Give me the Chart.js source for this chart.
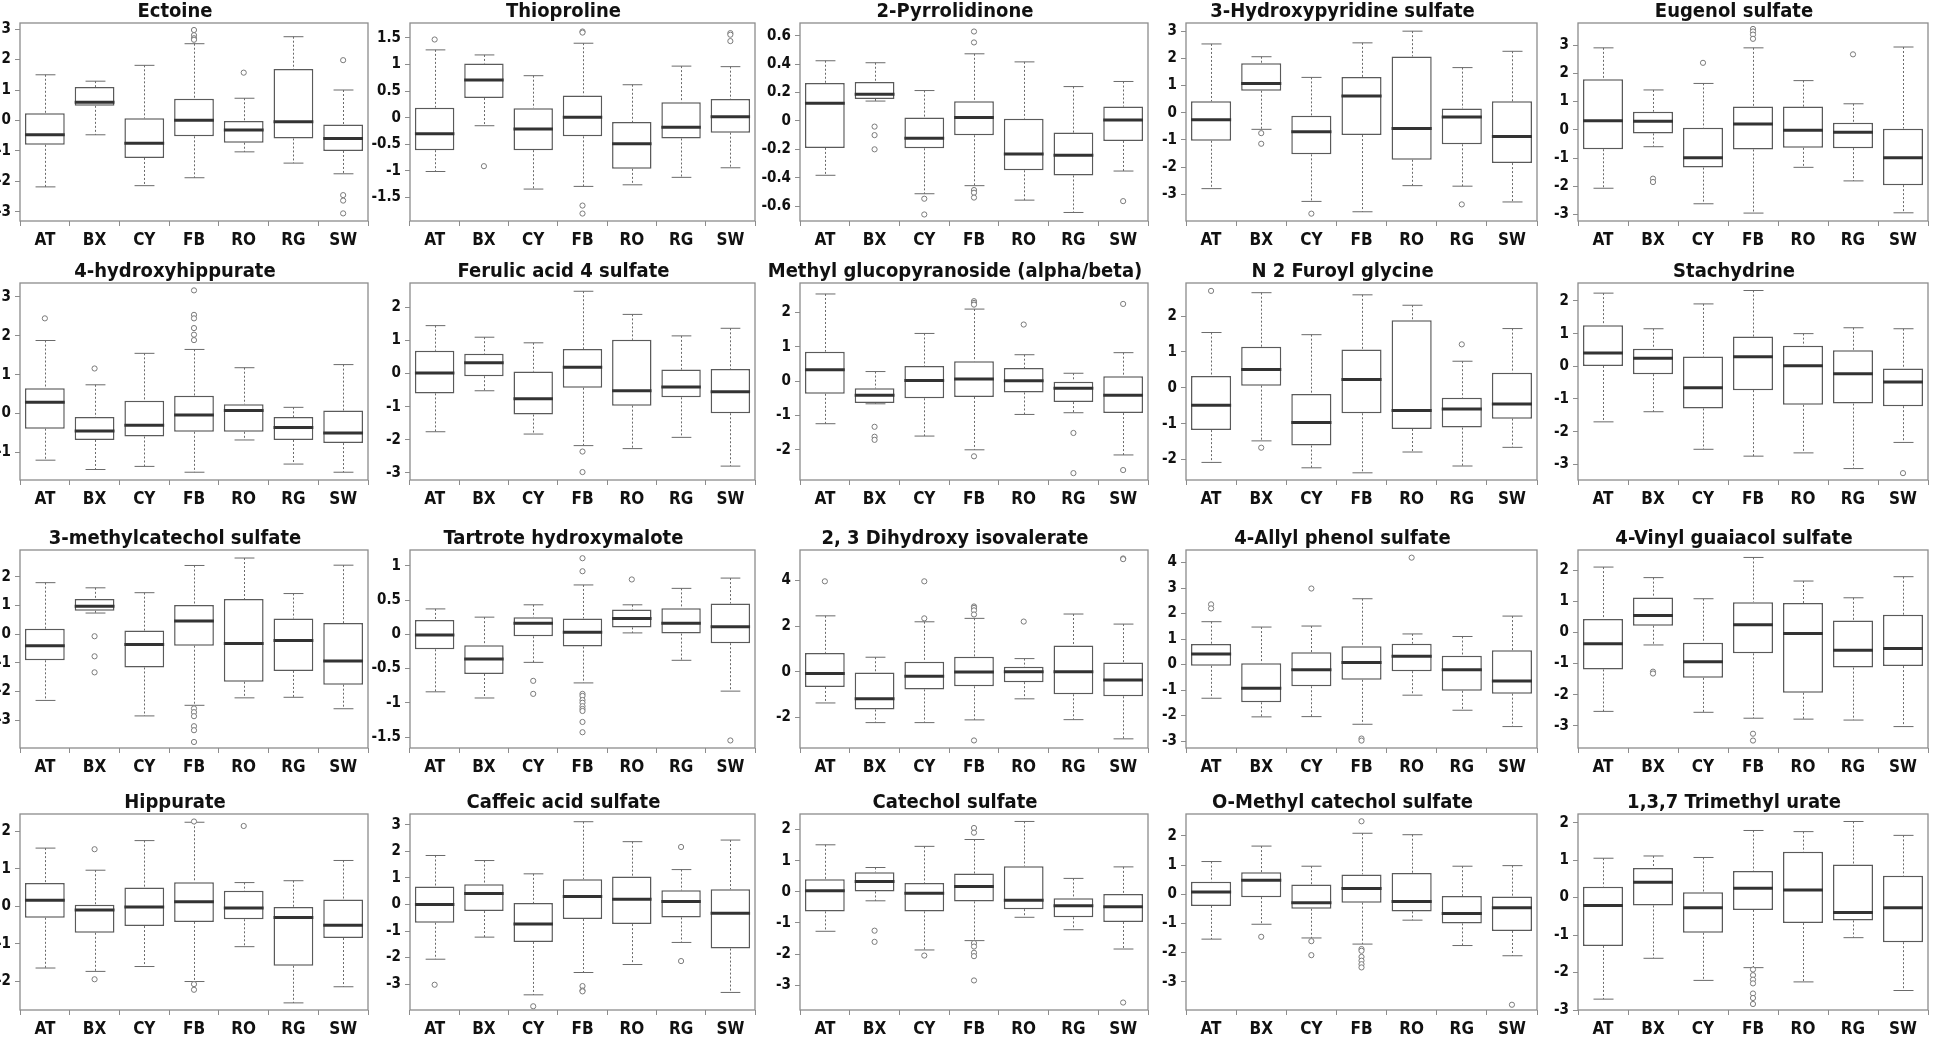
<!DOCTYPE html>
<html>
<head>
<meta charset="utf-8">
<script src="https://cdn.jsdelivr.net/npm/chart.js@4.4.0/dist/chart.umd.min.js"></script>
<style>
  body { margin: 0; background: #fff; width: 1946px; height: 1039px; overflow: hidden; position: relative; }
  .panel { position: absolute; }
</style>
</head>
<body>
<script>
// groupes (sites) sur l'axe x
const groups = ['AT', 'BX', 'CY', 'FB', 'RO', 'RG', 'SW'];

const titles = [
  'Ectoine', 'Thioproline', '2-Pyrrolidinone', '3-Hydroxypyridine sulfate', 'Eugenol sulfate',
  '4-hydroxyhippurate', 'Ferulic acid 4 sulfate', 'Methyl glucopyranoside (alpha/beta)', 'N 2 Furoyl glycine', 'Stachydrine',
  '3-methylcatechol sulfate', 'Tartrote hydroxymalote', '2, 3 Dihydroxy isovalerate', '4-Allyl phenol sulfate', '4-Vinyl guaiacol sulfate',
  'Hippurate', 'Caffeic acid sulfate', 'Catechol sulfate', 'O-Methyl catechol sulfate', '1,3,7 Trimethyl urate'
];

// moustache haute (max hors outliers)
const whiskerHigh = [
  [1.5, 1.29, 1.81, 2.52, 0.73, 2.75, 1.0],
  [1.275, 1.18, 0.79, 1.4, 0.62, 0.97, 0.96],
  [0.424, 0.41, 0.214, 0.473, 0.416, 0.242, 0.278],
  [2.53, 2.06, 1.3, 2.57, 3.0, 1.66, 2.26],
  [2.9, 1.41, 1.64, 2.9, 1.74, 0.92, 2.93],
  [1.88, 0.74, 1.55, 1.65, 1.18, 0.16, 1.26],
  [1.45, 1.1, 0.93, 2.49, 1.79, 1.14, 1.37],
  [2.54, 0.28, 1.39, 2.1, 0.77, 0.23, 0.83],
  [1.54, 2.65, 1.48, 2.59, 2.3, 0.74, 1.65],
  [2.24, 1.15, 1.91, 2.32, 1.0, 1.18, 1.15],
  [1.8, 1.62, 1.45, 2.4, 2.66, 1.42, 2.41],
  [0.37, 0.25, 0.43, 0.72, 0.43, 0.67, 0.82],
  [2.45, 0.64, 2.19, 2.34, 0.58, 2.53, 2.09],
  [1.68, 1.47, 1.51, 2.58, 1.2, 1.1, 1.9],
  [2.11, 1.77, 1.09, 2.42, 1.66, 1.12, 1.8],
  [1.55, 0.96, 1.75, 2.24, 0.63, 0.68, 1.22],
  [1.84, 1.65, 1.15, 3.11, 2.36, 1.31, 2.42],
  [1.51, 0.78, 1.46, 1.68, 2.26, 0.43, 0.8],
  [1.12, 1.65, 0.96, 2.09, 2.04, 0.96, 0.98],
  [1.05, 1.11, 1.07, 1.79, 1.76, 2.03, 1.66]
];

// troisième quartile
const upperQuartile = [
  [0.24, 1.1, 0.07, 0.71, -0.02, 1.69, -0.13],
  [0.19, 1.02, 0.18, 0.42, -0.08, 0.29, 0.35],
  [0.268, 0.275, 0.024, 0.139, 0.016, -0.082, 0.101],
  [0.42, 1.82, -0.11, 1.31, 2.07, 0.16, 0.42],
  [1.79, 0.64, 0.07, 0.82, 0.82, 0.25, 0.04],
  [0.65, -0.09, 0.33, 0.46, 0.24, -0.09, 0.08],
  [0.69, 0.6, 0.06, 0.74, 1.02, 0.12, 0.14],
  [0.86, -0.21, 0.44, 0.58, 0.38, 0.0, 0.14],
  [0.33, 1.14, -0.17, 1.07, 1.88, -0.28, 0.42],
  [1.26, 0.54, 0.3, 0.91, 0.63, 0.49, -0.07],
  [0.19, 1.23, 0.13, 1.02, 1.23, 0.55, 0.39],
  [0.21, -0.16, 0.25, 0.23, 0.36, 0.38, 0.45],
  [0.83, -0.03, 0.44, 0.66, 0.22, 1.15, 0.41],
  [0.81, 0.05, 0.48, 0.72, 0.82, 0.35, 0.56],
  [0.44, 1.13, -0.33, 0.98, 0.95, 0.39, 0.57],
  [0.62, 0.04, 0.5, 0.64, 0.41, -0.02, 0.18],
  [0.67, 0.76, 0.05, 0.95, 1.05, 0.53, 0.57],
  [0.4, 0.63, 0.28, 0.59, 0.82, -0.21, -0.07],
  [0.43, 0.75, 0.33, 0.68, 0.73, -0.06, -0.08],
  [0.29, 0.79, 0.14, 0.71, 1.22, 0.88, 0.58]
];

// médianes
const medians = [
  [-0.47, 0.6, -0.75, 0.01, -0.31, -0.04, -0.59],
  [-0.3, 0.71, -0.21, 0.01, -0.49, -0.18, 0.02],
  [0.125, 0.188, -0.122, 0.024, -0.233, -0.242, 0.007],
  [-0.26, 1.08, -0.7, 0.62, -0.58, -0.16, -0.87],
  [0.32, 0.3, -0.99, 0.2, -0.02, -0.09, -0.99],
  [0.29, -0.45, -0.3, -0.04, 0.08, -0.36, -0.5],
  [0.02, 0.33, -0.76, 0.19, -0.52, -0.41, -0.55],
  [0.33, -0.41, 0.02, 0.06, 0.01, -0.21, -0.41],
  [-0.49, 0.51, -0.97, 0.23, -0.63, -0.59, -0.45],
  [0.41, 0.25, -0.66, 0.29, 0.02, -0.23, -0.48],
  [-0.4, 0.98, -0.36, 0.46, -0.32, -0.22, -0.93],
  [-0.01, -0.36, 0.16, 0.03, 0.23, 0.16, 0.11],
  [-0.07, -1.18, -0.19, -0.01, 0.01, 0.01, -0.36],
  [0.41, -0.93, -0.2, 0.08, 0.33, -0.2, -0.64],
  [-0.36, 0.55, -0.94, 0.25, -0.03, -0.57, -0.51],
  [0.16, -0.1, -0.02, 0.12, -0.05, -0.3, -0.51],
  [0.0, 0.41, -0.74, 0.3, 0.19, 0.11, -0.33],
  [0.03, 0.33, -0.05, 0.17, -0.27, -0.45, -0.48],
  [0.08, 0.48, -0.29, 0.2, -0.25, -0.66, -0.46],
  [-0.21, 0.41, -0.27, 0.25, 0.2, -0.4, -0.27]
];

// premier quartile
const lowerQuartile = [
  [-0.8, 0.48, -1.23, -0.52, -0.73, -0.59, -1.0],
  [-0.61, 0.37, -0.61, -0.35, -0.96, -0.39, -0.28],
  [-0.19, 0.155, -0.193, -0.101, -0.348, -0.384, -0.141],
  [-1.03, 0.81, -1.53, -0.82, -1.73, -1.16, -1.85],
  [-0.69, -0.13, -1.34, -0.7, -0.64, -0.65, -1.96],
  [-0.39, -0.68, -0.59, -0.47, -0.47, -0.68, -0.76],
  [-0.6, -0.08, -1.24, -0.43, -0.97, -0.72, -1.2],
  [-0.37, -0.64, -0.5, -0.46, -0.33, -0.61, -0.93],
  [-1.18, 0.06, -1.61, -0.71, -1.15, -1.11, -0.86],
  [0.01, -0.24, -1.29, -0.73, -1.18, -1.14, -1.22],
  [-0.91, 0.82, -1.16, -0.4, -1.66, -1.28, -1.76],
  [-0.22, -0.58, -0.03, -0.18, 0.1, 0.01, -0.13],
  [-0.66, -1.65, -0.77, -0.63, -0.45, -0.98, -1.07],
  [-0.05, -1.48, -0.85, -0.6, -0.26, -1.03, -1.14],
  [-1.19, 0.22, -1.46, -0.67, -1.94, -1.13, -1.08],
  [-0.31, -0.71, -0.53, -0.42, -0.35, -1.59, -0.85],
  [-0.69, -0.25, -1.41, -0.55, -0.74, -0.49, -1.66],
  [-0.63, 0.01, -0.63, -0.31, -0.56, -0.82, -0.97],
  [-0.4, -0.1, -0.5, -0.29, -0.59, -1.0, -1.26],
  [-1.29, -0.21, -0.94, -0.33, -0.68, -0.61, -1.19]
];

// moustache basse
const whiskerLow = [
  [-2.18, -0.47, -2.14, -1.88, -1.03, -1.4, -1.75],
  [-1.01, -0.15, -1.34, -1.29, -1.26, -1.12, -0.94],
  [-0.383, 0.14, -0.513, -0.456, -0.558, -0.645, -0.353],
  [-2.79, -0.61, -3.26, -3.64, -2.68, -2.7, -3.28],
  [-2.07, -0.6, -2.62, -2.95, -1.33, -1.81, -2.94],
  [-1.2, -1.44, -1.36, -1.51, -0.68, -1.3, -1.51],
  [-1.76, -0.52, -1.83, -2.18, -2.27, -1.93, -2.8],
  [-1.24, -0.66, -1.6, -2.0, -0.97, -0.92, -2.15],
  [-2.08, -1.48, -2.23, -2.37, -1.79, -2.18, -1.66],
  [-1.7, -1.39, -2.54, -2.75, -2.65, -3.13, -2.33],
  [-2.31, 0.74, -2.85, -2.48, -2.22, -2.2, -2.6],
  [-0.84, -0.93, -0.41, -0.71, 0.02, -0.38, -0.83],
  [-1.36, -2.22, -2.22, -2.1, -1.18, -2.09, -2.93],
  [-1.32, -2.05, -2.04, -2.34, -1.2, -1.79, -2.43],
  [-2.54, -0.4, -2.57, -2.76, -2.79, -2.82, -3.03],
  [-1.65, -1.74, -1.61, -2.01, -1.08, -2.58, -2.15],
  [-2.06, -1.23, -3.4, -2.56, -2.26, -1.43, -3.31],
  [-1.27, -0.29, -1.87, -1.57, -0.82, -1.22, -1.84],
  [-1.54, -1.03, -1.5, -1.71, -0.89, -1.76, -2.11],
  [-2.71, -1.62, -2.21, -1.87, -2.25, -1.07, -2.48]
];

// valeurs aberrantes par groupe
const outliers = [
  { FB: [2.97, 2.8, 2.7, 2.65], RO: [1.57], SW: [1.98, -2.45, -2.63, -3.05] },
  { AT: [1.47], BX: [-0.91], FB: [1.62, 1.6, -1.65, -1.8], SW: [1.59, 1.56, 1.44] },
  { BX: [-0.04, -0.1, -0.2], CY: [-0.548, -0.659], FB: [0.63, 0.553, -0.487, -0.506, -0.54], SW: [-0.565] },
  { BX: [-0.75, -1.14], CY: [-3.71], RG: [-3.37] },
  { BX: [-1.73, -1.85], CY: [2.37], FB: [3.57, 3.48, 3.37, 3.22], RG: [2.67] },
  { AT: [2.45], BX: [1.16], FB: [3.17, 2.54, 2.45, 2.2, 2.03, 1.89] },
  { FB: [-2.36, -2.98] },
  { BX: [-1.33, -1.62, -1.71], FB: [2.33, 2.28, 2.23, -2.19], RO: [1.65], RG: [-1.51, -2.68], SW: [2.25, -2.59] },
  { AT: [2.7], BX: [-1.67], RG: [1.21] },
  { SW: [-3.27] },
  { BX: [-0.07, -0.77, -1.33], FB: [-2.59, -2.72, -2.86, -3.21, -3.35, -3.76] },
  { CY: [-0.68, -0.87], FB: [1.11, 0.92, -0.87, -0.9, -0.96, -1.0, -1.05, -1.09, -1.12, -1.28, -1.43], RO: [0.8], SW: [-1.55] },
  { AT: [3.96], CY: [3.96, 2.34], FB: [2.86, 2.8, 2.69, 2.51, -3.0], RO: [2.2], SW: [4.96, 4.93] },
  { AT: [2.36, 2.2], CY: [2.98], FB: [-2.9, -2.98], RO: [4.19] },
  { BX: [-1.26, -1.32], FB: [-3.26, -3.48] },
  { BX: [1.52, -1.95], FB: [2.26, -2.08, -2.23], RO: [2.14] },
  { AT: [-3.02], CY: [-3.83], FB: [-3.07, -3.24, -3.27], RG: [2.16, -2.13] },
  { BX: [-1.25, -1.61], CY: [-2.05], FB: [2.05, 1.9, -1.65, -1.76, -1.96, -2.07, -2.85], SW: [-3.56] },
  { BX: [-1.46], CY: [-1.61, -2.09], FB: [2.5, -1.88, -1.94, -2.15, -2.28, -2.4, -2.51], SW: [-3.79] },
  { FB: [-1.92, -2.07, -2.19, -2.29, -2.56, -2.68, -2.84] }
];

// bornes et pas des axes y
const yMin = [-3.3, -1.94, -0.705, -3.98, -3.23, -1.71, -3.22, -2.88, -2.57, -3.48,
              -3.97, -1.66, -3.33, -3.27, -3.72, -2.77, -3.97, -3.8, -3.97, -3.0];
const yMax = [3.2, 1.78, 0.69, 3.3, 3.78, 3.36, 2.74, 2.86, 2.92, 2.55,
              2.94, 1.23, 5.33, 4.49, 2.66, 2.46, 3.4, 2.5, 2.75, 2.23];
const yStep = [1, 0.5, 0.2, 1, 1, 1, 1, 1, 1, 1,
               1, 0.5, 2, 1, 1, 1, 1, 1, 1, 1];

// mise en page de la grille (cadres des graphiques)
const frameLeft = [20, 410, 800, 1186, 1578];
const frameWidth = [350, 347, 350, 353, 352];
const frameTop = [23, 283, 550, 814];
const frameHeight = [198, 197, 198, 196];
const axisW = 40, titleH = 22, xAxisH = 32;

const fontFamily = '"Liberation Sans Narrow", "DejaVu Sans Condensed", "Liberation Sans", Arial, sans-serif';

// Plugin : moustaches, médianes et cadre
const boxPlotPlugin = {
  id: 'boxplot',
  beforeDatasetsDraw(chart, args, opts) {
    const i = opts.index;
    const meta = chart.getDatasetMeta(0);
    const y = chart.scales.y;
    const ctx = chart.ctx;
    ctx.save();
    ctx.strokeStyle = '#6a6a6a';
    ctx.lineWidth = 1;
    meta.data.forEach((bar, j) => {
      const x = Math.round(bar.x) + 0.5;
      const cap = bar.width / 4;
      const hi = y.getPixelForValue(whiskerHigh[i][j]);
      const lo = y.getPixelForValue(whiskerLow[i][j]);
      const top = y.getPixelForValue(upperQuartile[i][j]);
      const bot = y.getPixelForValue(lowerQuartile[i][j]);
      ctx.setLineDash([2, 2]);
      ctx.beginPath();
      ctx.moveTo(x, hi); ctx.lineTo(x, top);
      ctx.moveTo(x, bot); ctx.lineTo(x, lo);
      ctx.stroke();
      ctx.setLineDash([]);
      ctx.beginPath();
      ctx.moveTo(x - cap, hi); ctx.lineTo(x + cap, hi);
      ctx.moveTo(x - cap, lo); ctx.lineTo(x + cap, lo);
      ctx.stroke();
    });
    ctx.restore();
  },
  afterDatasetsDraw(chart, args, opts) {
    const i = opts.index;
    const meta = chart.getDatasetMeta(0);
    const y = chart.scales.y;
    const ctx = chart.ctx;
    ctx.save();
    ctx.strokeStyle = '#333';
    ctx.lineWidth = 3;
    meta.data.forEach((bar, j) => {
      const m = y.getPixelForValue(medians[i][j]);
      ctx.beginPath();
      ctx.moveTo(bar.x - bar.width / 2, m);
      ctx.lineTo(bar.x + bar.width / 2, m);
      ctx.stroke();
    });
    const a = chart.chartArea;
    ctx.strokeStyle = '#8c8c8c';
    ctx.lineWidth = 1.3;
    ctx.strokeRect(a.left, a.top, a.right - a.left, a.bottom - a.top);
    ctx.restore();
  }
};

function fmtTick(v) {
  if (Math.abs(v) < 1e-9) return '0';
  return String(parseFloat(v.toFixed(2)));
}

titles.forEach((title, i) => {
  const row = Math.floor(i / 5), col = i % 5;
  const div = document.createElement('div');
  div.className = 'panel';
  div.style.left = (frameLeft[col] - axisW) + 'px';
  div.style.top = (frameTop[row] - titleH) + 'px';
  div.style.width = (axisW + frameWidth[col] + 3) + 'px';
  div.style.height = (titleH + frameHeight[row] + xAxisH) + 'px';
  const canvas = document.createElement('canvas');
  div.appendChild(canvas);
  document.body.appendChild(div);

  const boxes = groups.map((g, j) => [lowerQuartile[i][j], upperQuartile[i][j]]);
  const points = [];
  Object.keys(outliers[i]).forEach(g => {
    outliers[i][g].forEach(v => points.push({ x: g, y: v }));
  });

  new Chart(canvas.getContext('2d'), {
    type: 'bar',
    data: {
      labels: groups,
      datasets: [{
        type: 'bar',
        data: boxes,
        backgroundColor: '#ffffff',
        borderColor: '#5a5a5a',
        borderWidth: 1.5,
        borderSkipped: false,
        barPercentage: 0.8,
        categoryPercentage: 1.0
      }, {
        type: 'line',
        data: points,
        showLine: false,
        pointRadius: 2.6,
        pointBorderWidth: 1,
        pointBorderColor: '#7a7a7a',
        pointBackgroundColor: '#ffffff'
      }]
    },
    options: {
      responsive: true,
      maintainAspectRatio: false,
      animation: false,
      events: [],
      layout: { padding: { top: 0, right: 3, bottom: 0, left: 0 } },
      plugins: {
        legend: { display: false },
        tooltip: { enabled: false },
        title: {
          display: true,
          text: title,
          color: '#111',
          font: { family: fontFamily, size: 20, weight: 'bold', lineHeight: '22px' },
          padding: { top: 0, bottom: 0 }
        },
        boxplot: { index: i }
      },
      scales: {
        x: {
          type: 'category',
          offset: true,
          grid: { display: true, drawOnChartArea: false, drawTicks: true, tickLength: 5, color: '#8c8c8c' },
          border: { display: false },
          ticks: { color: '#111', padding: 4, font: { family: fontFamily, size: 17, weight: 'bold' } },
          afterFit: s => { s.height = xAxisH; }
        },
        y: {
          type: 'linear',
          min: yMin[i],
          max: yMax[i],
          grid: { display: true, drawOnChartArea: false, drawTicks: true, tickLength: 5, color: '#8c8c8c' },
          border: { display: false },
          ticks: {
            stepSize: yStep[i],
            includeBounds: false,
            autoSkip: false,
            color: '#111',
            padding: 4,
            font: { family: fontFamily, size: 15, weight: 'bold' },
            callback: v => fmtTick(v)
          },
          afterFit: s => { s.width = axisW; }
        }
      }
    },
    plugins: [boxPlotPlugin]
  });
});
</script>
</body>
</html>
